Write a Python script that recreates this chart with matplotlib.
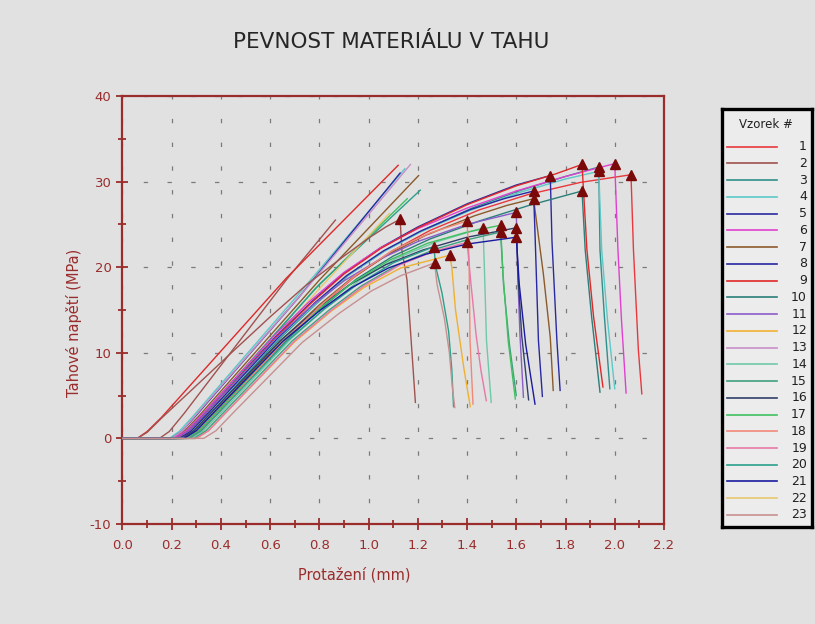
import matplotlib
matplotlib.use("Agg")
import matplotlib.pyplot as plt
from matplotlib.ticker import MultipleLocator

# ---------------------------------------------------------------------------
# Data: tensile test curves, elongation (mm) vs. tensile stress (MPa)
# ---------------------------------------------------------------------------
specimens = list(range(1, 24))
spec_colors = {
    1: "#e8383d", 2: "#a0524f", 3: "#2f8f8a", 4: "#5cc8c8", 5: "#2a2aa0",
    6: "#e040d0", 7: "#8b5a2b", 8: "#2828a0", 9: "#e02828", 10: "#2a7f7a",
    11: "#8a5cc8", 12: "#f0b030", 13: "#c890c8", 14: "#70c8a8", 15: "#3fa07f",
    16: "#30406a", 17: "#40c060", 18: "#f08878", 19: "#e878a8", 20: "#2aa08a",
    21: "#1a1aa0", 22: "#e8c870", 23: "#c89090",
}

# complete runs up to fracture (loading, maximum, drop after rupture)
run_01 = [(0, 0), (0.26, 0), (0.31, 0.9), (0.38, 3.0), (0.66, 11.6), (0.81, 15.6), (0.94, 18.8), (1.09, 21.8),
          (1.25, 24.3), (1.45, 26.7), (1.65, 28.5), (1.86, 29.9), (2.066, 30.8), (2.076, 22.0), (2.096, 10.3), (2.11, 5.2)]
run_02 = [(0, 0), (0.06, 0), (0.1, 0.7), (0.16, 2.4), (0.45, 10.2), (0.6, 14.2), (0.75, 18.0), (0.9, 21.3),
          (1.0, 23.4), (1.07, 24.7), (1.128, 25.6), (1.135, 22.0), (1.156, 18.5), (1.17, 12.6), (1.19, 4.2)]
run_03 = [(0, 0), (0.24, 0), (0.29, 0.9), (0.36, 3.0), (0.64, 11.7), (0.79, 15.8), (0.92, 19.1), (1.07, 22.0),
          (1.22, 24.3), (1.42, 26.9), (1.62, 29.0), (1.8, 30.6), (1.935, 31.7), (1.94, 22.0), (1.958, 14.2), (1.98, 5.8)]
run_04 = [(0, 0), (0.23, 0), (0.28, 0.9), (0.35, 3.0), (0.63, 11.6), (0.78, 15.6), (0.91, 18.9), (1.06, 21.8),
          (1.21, 24.1), (1.41, 26.6), (1.61, 28.7), (1.8, 30.3), (1.935, 31.2), (1.947, 22.0), (1.97, 14.0), (2.0, 5.8)]
run_05 = [(0, 0), (0.22, 0), (0.27, 0.9), (0.34, 3.0), (0.62, 11.8), (0.77, 16.0), (0.9, 19.3), (1.05, 22.3),
          (1.2, 24.7), (1.4, 27.4), (1.6, 29.6), (1.738, 30.7), (1.745, 23.0), (1.765, 11.4), (1.778, 5.6)]
run_06 = [(0, 0), (0.21, 0), (0.26, 0.9), (0.33, 3.0), (0.61, 11.8), (0.76, 16.0), (0.9, 19.4), (1.05, 22.3),
          (1.2, 24.5), (1.4, 26.9), (1.6, 28.9), (1.8, 30.6), (2.0, 32.1), (2.013, 22.0), (2.027, 14.0), (2.046, 5.3)]
run_07 = [(0, 0), (0.25, 0), (0.3, 0.9), (0.37, 3.0), (0.65, 11.6), (0.8, 15.6), (0.93, 18.7), (1.08, 21.5),
          (1.23, 23.7), (1.43, 26.0), (1.56, 27.2), (1.67, 28.0), (1.71, 19.2), (1.738, 11.8), (1.75, 5.6)]
run_08 = [(0, 0), (0.23, 0), (0.28, 0.9), (0.35, 3.0), (0.63, 11.7), (0.78, 15.8), (0.91, 19.0), (1.06, 21.9),
          (1.21, 24.2), (1.41, 26.7), (1.55, 28.0), (1.67, 28.9), (1.677, 23.1), (1.69, 11.4), (1.706, 4.9)]
run_09 = [(0, 0), (0.22, 0), (0.27, 0.9), (0.34, 3.0), (0.62, 11.7), (0.77, 15.9), (0.9, 19.2), (1.05, 22.2),
          (1.2, 24.6), (1.4, 27.3), (1.6, 29.5), (1.76, 30.9), (1.867, 32.0), (1.887, 22.0), (1.914, 14.2), (1.952, 6.0)]
run_10 = [(0, 0), (0.27, 0), (0.32, 0.9), (0.39, 3.0), (0.67, 11.6), (0.82, 15.5), (0.95, 18.6), (1.1, 21.3),
          (1.25, 23.3), (1.45, 25.4), (1.65, 27.2), (1.867, 28.9), (1.88, 22.0), (1.906, 14.2), (1.94, 5.4)]
run_11 = [(0, 0), (0.22, 0), (0.27, 0.9), (0.34, 3.0), (0.62, 11.6), (0.77, 15.5), (0.9, 18.4), (1.05, 21.0),
          (1.2, 23.0), (1.4, 25.0), (1.6, 26.4), (1.606, 19.0), (1.615, 12.0), (1.629, 4.8)]
run_12 = [(0, 0), (0.3, 0), (0.35, 0.9), (0.42, 3.0), (0.7, 11.3), (0.85, 14.9), (0.98, 17.6), (1.13, 19.9),
          (1.33, 21.4), (1.338, 20.0), (1.353, 15.0), (1.373, 11.0), (1.388, 8.0), (1.413, 3.7)]
run_14 = [(0, 0), (0.28, 0), (0.33, 0.9), (0.40, 3.0), (0.68, 11.5), (0.83, 15.4), (0.96, 18.4), (1.11, 21.0),
          (1.27, 22.9), (1.465, 24.6), (1.471, 19.3), (1.479, 11.4), (1.498, 4.2)]
run_15 = [(0, 0), (0.29, 0), (0.34, 0.9), (0.41, 3.0), (0.69, 11.4), (0.84, 15.0), (0.97, 17.8), (1.12, 20.3),
          (1.27, 22.1), (1.4, 23.2), (1.536, 24.1), (1.548, 18.0), (1.572, 11.0), (1.6, 5.0)]
run_16 = [(0, 0), (0.24, 0), (0.29, 0.9), (0.36, 3.0), (0.64, 11.4), (0.79, 15.1), (0.92, 17.9), (1.07, 20.3),
          (1.22, 22.0), (1.4, 23.5), (1.6, 24.6), (1.607, 19.0), (1.622, 12.0), (1.65, 4.5)]
run_17 = [(0, 0), (0.26, 0), (0.31, 0.9), (0.38, 3.0), (0.66, 11.6), (0.81, 15.4), (0.94, 18.3), (1.09, 20.9),
          (1.24, 22.8), (1.4, 24.1), (1.536, 24.9), (1.546, 19.2), (1.567, 11.4), (1.596, 4.6)]
run_18 = [(0, 0), (0.27, 0), (0.32, 0.9), (0.39, 3.0), (0.67, 11.8), (0.82, 15.9), (0.95, 19.1), (1.1, 22.0),
          (1.25, 24.0), (1.4, 25.4), (1.408, 21.0), (1.412, 11.4), (1.424, 4.0)]
run_19 = [(0, 0), (0.3, 0), (0.35, 0.9), (0.42, 3.0), (0.7, 11.4), (0.85, 15.0), (0.98, 17.8), (1.13, 20.3),
          (1.27, 21.9), (1.4, 22.9), (1.416, 18.0), (1.437, 12.0), (1.456, 8.0), (1.478, 4.4)]
run_20 = [(0, 0), (0.27, 0), (0.32, 0.9), (0.39, 3.0), (0.67, 11.4), (0.82, 15.1), (0.95, 17.9), (1.1, 20.5),
          (1.265, 22.4), (1.273, 20.0), (1.298, 17.0), (1.325, 12.5), (1.338, 8.0), (1.345, 3.7)]
run_21 = [(0, 0), (0.25, 0), (0.3, 0.9), (0.37, 3.0), (0.65, 11.3), (0.8, 14.9), (0.93, 17.6), (1.08, 19.9),
          (1.23, 21.5), (1.4, 22.7), (1.6, 23.5), (1.612, 18.0), (1.638, 11.0), (1.676, 4.0)]
run_23 = [(0, 0), (0.33, 0), (0.38, 0.9), (0.45, 3.0), (0.73, 11.2), (0.88, 14.6), (1.01, 17.2), (1.13, 19.0),
          (1.268, 20.5), (1.278, 18.0), (1.308, 14.0), (1.328, 10.0), (1.34, 6.0), (1.35, 3.6)]

# shorter records ending before the maximum was reached
part_02 = [(0, 0), (0.15, 0), (0.19, 0.8), (0.25, 2.9), (0.665, 18.5), (0.865, 25.5)]
part_04 = [(0, 0), (0.19, 0), (0.23, 0.8), (0.29, 2.7), (0.72, 17.0), (1.147, 31.5)]
part_05 = [(0, 0), (0.2, 0), (0.24, 0.8), (0.3, 2.7), (0.72, 16.6), (1.128, 31.0)]
part_07 = [(0, 0), (0.21, 0), (0.25, 0.8), (0.31, 2.6), (0.8, 18.5), (1.203, 30.7)]
part_09 = [(0, 0), (0.06, 0), (0.1, 0.8), (0.16, 2.5), (0.665, 18.7), (1.12, 31.9)]
part_13 = [(0, 0), (0.2, 0), (0.24, 0.8), (0.3, 2.8), (0.75, 17.6), (1.17, 32.0)]
part_17 = [(0, 0), (0.23, 0), (0.27, 0.8), (0.33, 2.6), (0.78, 17.4), (1.157, 28.0)]
part_20 = [(0, 0), (0.22, 0), (0.26, 0.8), (0.32, 2.6), (0.8, 18.0), (1.21, 29.0)]
part_22 = [(0, 0), (0.24, 0), (0.28, 0.8), (0.34, 2.6), (0.8, 17.5), (1.085, 26.3)]

full_runs = [(1, run_01), (2, run_02), (3, run_03), (4, run_04), (5, run_05), (6, run_06),
             (7, run_07), (8, run_08), (9, run_09), (10, run_10), (11, run_11), (12, run_12),
             (14, run_14), (15, run_15), (16, run_16), (17, run_17), (18, run_18), (19, run_19),
             (20, run_20), (21, run_21), (23, run_23)]
partial_runs = [(2, part_02), (4, part_04), (5, part_05), (7, part_07), (9, part_09),
                (13, part_13), (17, part_17), (20, part_20), (22, part_22)]

x_ticks = [0.0, 0.2, 0.4, 0.6, 0.8, 1.0, 1.2, 1.4, 1.6, 1.8, 2.0, 2.2]
y_ticks = [-10, 0, 10, 20, 30, 40]

# ---------------------------------------------------------------------------
# Styling
# ---------------------------------------------------------------------------
BG = "#e1e1e1"
AXIS = "#9a2c2c"
GRID = "#7a7a7a"
PEAK = "#7a0a0a"

plt.rcParams["font.family"] = ["DejaVu Sans"]

fig = plt.figure(figsize=(8.15, 6.24), dpi=100, facecolor=BG)
ax = fig.add_axes([0.1503, 0.1603, 0.6644, 0.6859], facecolor=BG)

for spec, pts in partial_runs:
    xs = [p[0] for p in pts]
    ys = [p[1] for p in pts]
    ax.plot(xs, ys, color=spec_colors[spec], lw=1.0, zorder=3)

for spec, pts in full_runs:
    xs = [p[0] for p in pts]
    ys = [p[1] for p in pts]
    ax.plot(xs, ys, color=spec_colors[spec], lw=1.0, zorder=3)

# strength (maximum stress) of each complete run
for spec, pts in full_runs:
    xm, ym = max(pts, key=lambda p: p[1])
    ax.plot([xm], [ym], marker="^", ms=6.5, color=PEAK, mec=PEAK, ls="none", zorder=5)

ax.set_xlim(0, 2.2)
ax.set_ylim(-10, 40)
ax.set_xticks(x_ticks)
ax.set_xticklabels([f"{v:.1f}" for v in x_ticks])
ax.set_yticks(y_ticks)
ax.set_yticklabels([str(v) for v in y_ticks])
ax.xaxis.set_minor_locator(MultipleLocator(0.1))
ax.yaxis.set_minor_locator(MultipleLocator(5))

for side in ("left", "right", "top", "bottom"):
    ax.spines[side].set_color(AXIS)
    ax.spines[side].set_linewidth(1.6)

ax.tick_params(which="major", direction="inout", length=8, width=1.3, color=AXIS,
               labelcolor=AXIS, labelsize=9.5)
ax.tick_params(axis="x", which="major", pad=7)
ax.tick_params(axis="y", which="major", pad=4)
ax.tick_params(which="minor", direction="inout", length=6, width=1.3, color=AXIS)

# sparse dashed grid
ax.grid(True, which="major", color=GRID, lw=0.9, linestyle=(2, (3.5, 15.5)), zorder=1)
ax.set_axisbelow(True)

ax.set_xlabel("Protažení (mm)", color=AXIS, fontsize=10.5)
ax.xaxis.set_label_coords(0.428, -0.1)
ax.set_ylabel("Tahové napětí (MPa)", color=AXIS, fontsize=10.5)
ax.yaxis.set_label_coords(-0.075, 0.47)

fig.text(0.48, 0.933, "PEVNOST MATERIÁLU V TAHU", ha="center", va="center",
         fontsize=15.5, color="#262626")

# legend panel
lg = fig.add_axes([722 / 815, (624 - 527) / 624, 90 / 815, 418 / 624], facecolor="#ececec")
lg.set_xlim(0, 90)
lg.set_ylim(418, 0)
lg.set_xticks([])
lg.set_yticks([])
for side in ("left", "right", "top", "bottom"):
    lg.spines[side].set_color("black")
    lg.spines[side].set_linewidth(2.4)
lg.text(44, 16, "Vzorek #", ha="center", va="center", fontsize=8.5, color="#202020")
for i, spec in enumerate(specimens):
    yy = 37.7 + i * 16.74
    lg.plot([5, 55], [yy, yy], color=spec_colors[spec], lw=1.2)
    lg.text(85, yy, str(spec), ha="right", va="center", fontsize=9, color="#202020")

fig.savefig("out.png", dpi=100, facecolor=BG)
